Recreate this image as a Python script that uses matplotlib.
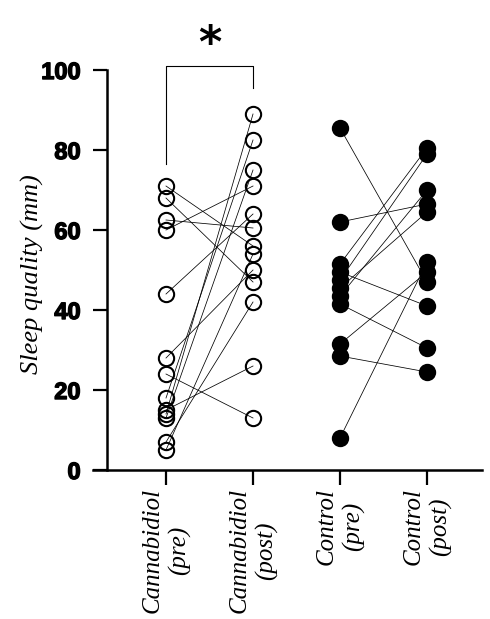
import numpy as np
import matplotlib
matplotlib.use("Agg")
import matplotlib.pyplot as plt
import matplotlib.patheffects as pe

# ==================================================
# DATE (mm pe scala VAS)
# ==================================================
groups = ["Cannabidiol\n(pre)", "Cannabidiol\n(post)", "Control\n(pre)", "Control\n(post)"]

cbd_pre = [71, 68, 62.5, 60, 44, 28, 24, 18, 15, 14, 13, 7, 5]
cbd_post = [56, 47, 60.5, 71, 64, 50, 13, 82.5, 26, 89, 75, 42, 54]

ctrl_pre = [85.5, 62, 51.5, 49.5, 47.5, 45.5, 43.5, 41.5, 31.5, 28.5, 8]
ctrl_post = [47, 66.5, 80.5, 41, 79, 64.5, 70, 30.5, 49.5, 24.5, 52]

yticks = [0, 20, 40, 60, 80, 100]

# ==================================================
# FIGURA
# ==================================================
fig = plt.figure(figsize=(4.9, 6.19), dpi=100)
ax = fig.add_axes([0.1898, 0.2407, 0.7939, 0.6462])

script_font = dict(family="Liberation Serif", style="italic")

# linii pre -> post
for a, b in zip(cbd_pre, cbd_post):
    ax.plot([0, 1], [a, b], color="black", lw=0.55, zorder=1)
for a, b in zip(ctrl_pre, ctrl_post):
    ax.plot([2, 3], [a, b], color="black", lw=0.55, zorder=1)

# puncte
ax.plot(np.zeros(len(cbd_pre)), cbd_pre, "o", ms=11, mfc="none", mec="black",
        mew=1.5, zorder=3, clip_on=False)
ax.plot(np.ones(len(cbd_post)), cbd_post, "o", ms=11, mfc="none", mec="black",
        mew=1.5, zorder=3, clip_on=False)
ax.plot(np.full(len(ctrl_pre), 2), ctrl_pre, "o", ms=11, mfc="black", mec="black",
        mew=1.5, zorder=3, clip_on=False)
ax.plot(np.full(len(ctrl_post), 3), ctrl_post, "o", ms=11, mfc="black", mec="black",
        mew=1.5, zorder=3, clip_on=False)

# paranteza de semnificatie
ax.plot([0, 0, 1, 1], [76.5, 101, 101, 95.5], color="black", lw=0.8, clip_on=False)
ax.text(0.5, 106.5, "*", ha="center", va="center", fontsize=32, fontweight="bold",
        family="DejaVu Sans")

# ==================================================
# AXE
# ==================================================
ax.set_xlim(-0.839, 3.632)
ax.set_ylim(0, 100)

for s in ["top", "right"]:
    ax.spines[s].set_visible(False)
ax.spines["left"].set_position(("data", -0.678))
ax.spines["left"].set_linewidth(1.8)
ax.spines["bottom"].set_linewidth(1.8)

ax.set_yticks(yticks)
ax.set_yticklabels([str(v) for v in yticks], family="Liberation Sans",
                   fontweight="bold", fontsize=17)
for lbl in ax.get_yticklabels():
    lbl.set_path_effects([pe.withStroke(linewidth=1.0, foreground="black")])
ax.tick_params(axis="y", length=10, width=1.6, pad=9)

ax.set_xticks(range(len(groups)))
ax.set_xticklabels(groups, rotation=90, ha="center", va="top",
                   multialignment="center", linespacing=1.25, fontsize=18,
                   **script_font)
ax.tick_params(axis="x", length=11, width=1.6, pad=2)

ax.set_ylabel("Sleep quality (mm)", fontsize=19, **script_font)
ax.yaxis.set_label_coords(-0.125, 0.49)

fig.savefig("out.png", dpi=100)
